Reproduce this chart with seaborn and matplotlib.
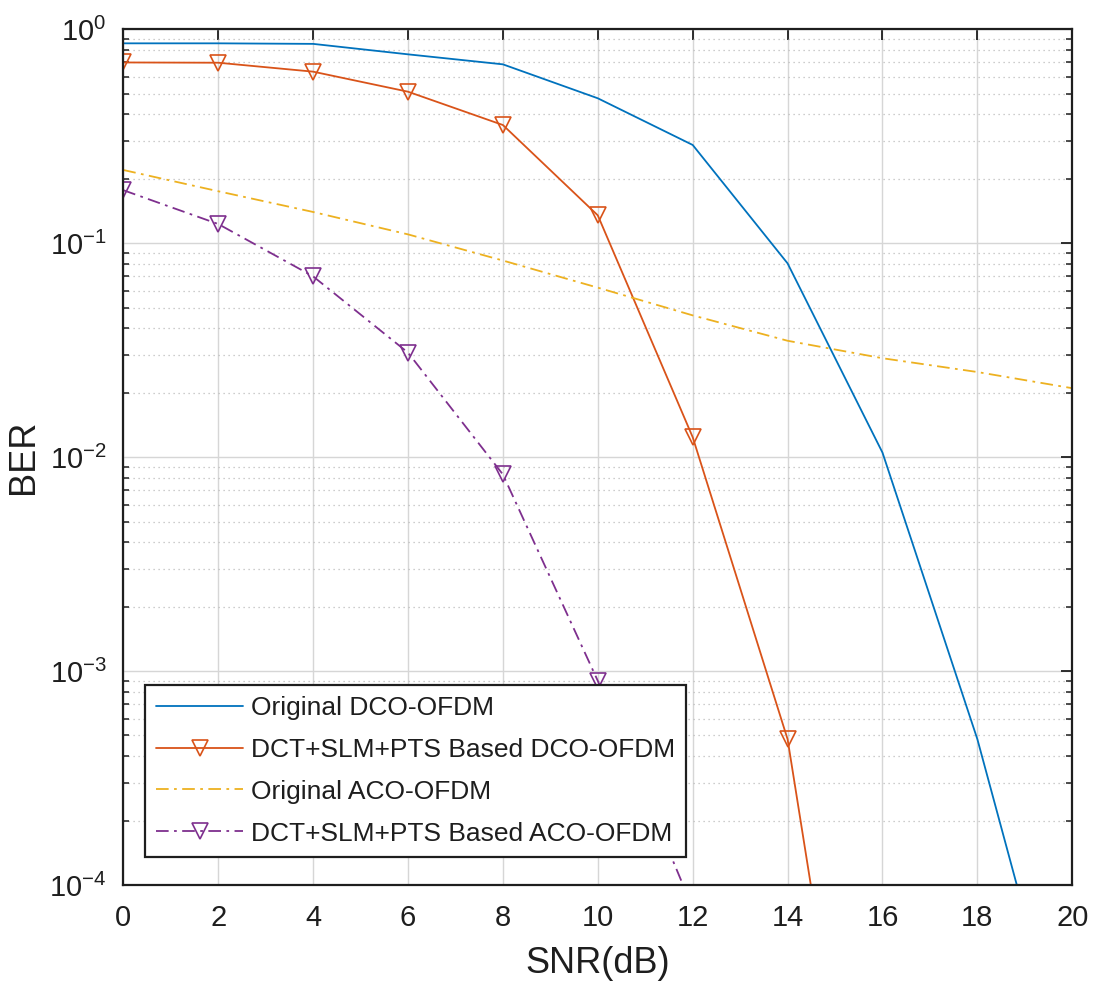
import numpy as np
import pandas as pd
import matplotlib
matplotlib.use("Agg")
import matplotlib.pyplot as plt
import seaborn as sns
from matplotlib.ticker import LogLocator, NullFormatter

# ---- data ----
snr = [0, 2, 4, 6, 8, 10, 12, 14, 16, 18, 20]
ber_dco = [0.86, 0.86, 0.855, 0.764, 0.686, 0.476, 0.288, 0.0805, 0.0105, 4.8e-4, 1.1e-5]
ber_dct_dco = [0.70, 0.698, 0.634, 0.511, 0.357, 0.135, 0.0124, 4.8e-4, 7.9e-7, np.nan, np.nan]
ber_aco = [0.22, 0.175, 0.140, 0.110, 0.083, 0.062, 0.046, 0.035, 0.029, 0.025, 0.021]
ber_dct_aco = [0.177, 0.123, 0.070, 0.0308, 0.0083, 9.0e-4, 7.8e-5, np.nan, np.nan, np.nan, np.nan]

labels = ["Original DCO-OFDM", "DCT+SLM+PTS Based DCO-OFDM",
          "Original ACO-OFDM", "DCT+SLM+PTS Based ACO-OFDM"]
x_ticks = [0, 2, 4, 6, 8, 10, 12, 14, 16, 18, 20]

sns.set_theme(style="white")
plt.rcParams["font.family"] = ["Liberation Sans", "DejaVu Sans"]
plt.rcParams["mathtext.fontset"] = "custom"
plt.rcParams["mathtext.rm"] = "Liberation Sans"
plt.rcParams["mathtext.it"] = "Liberation Sans"
plt.rcParams["mathtext.default"] = "regular"
plt.rcParams["axes.unicode_minus"] = False

fig = plt.figure(figsize=(11, 9.94), dpi=100)
ax = fig.add_axes([0.1121, 0.1097, 0.8627, 0.8608])

c_blue = "#0072BD"
c_orange = "#D95319"
c_yellow = "#EDB120"
c_purple = "#7E2F8E"
txt = "#1e1e1e"
lw = 1.3
dashdot = (0, (7, 3, 1.5, 3))

sns.lineplot(x=snr, y=ber_dco, ax=ax, color=c_blue, lw=lw, label=labels[0])
sns.lineplot(x=snr, y=ber_dct_dco, ax=ax, color=c_orange, lw=lw, marker="v",
             markersize=12, markerfacecolor="none", markeredgecolor=c_orange,
             markeredgewidth=1.2, label=labels[1])
sns.lineplot(x=snr, y=ber_aco, ax=ax, color=c_yellow, lw=lw, linestyle=dashdot,
             label=labels[2])
sns.lineplot(x=snr, y=ber_dct_aco, ax=ax, color=c_purple, lw=lw, linestyle=dashdot,
             marker="v", markersize=12, markerfacecolor="none",
             markeredgecolor=c_purple, markeredgewidth=1.2, label=labels[3])

ax.set_yscale("log")
ax.set_ylim(1e-4, 1)
ax.set_xlim(0, 20)
ax.set_xticks(x_ticks)
ax.set_xticklabels([str(t) for t in x_ticks])
ax.yaxis.set_major_locator(LogLocator(base=10, numticks=10))
ax.yaxis.set_minor_locator(LogLocator(base=10, subs=np.arange(2, 10), numticks=20))
ax.yaxis.set_minor_formatter(NullFormatter())

ax.grid(True, which="major", axis="both", color="#d6d6d6", lw=1.0, ls="-")
ax.grid(True, which="minor", axis="y", color="#bdbdbd", lw=0.9, ls=(0, (1, 3)))
ax.set_axisbelow(True)

for s in ax.spines.values():
    s.set_color(txt)
    s.set_linewidth(1.6)
    s.set_visible(True)

ax.tick_params(axis="both", which="major", direction="in", length=8, width=1.3,
               top=True, right=True, labelsize=21, colors=txt, pad=12)
ax.tick_params(axis="y", which="minor", direction="in", length=4, width=1.1,
               left=True, right=True, colors=txt)
ax.tick_params(axis="x", which="major", pad=14)

ax.set_xlabel("SNR(dB)", fontsize=26, color=txt, labelpad=10)
ax.set_ylabel("BER", fontsize=26, color=txt, labelpad=6)

leg = ax.legend(loc="lower left", bbox_to_anchor=(0.023, 0.033), fontsize=19,
                frameon=True, fancybox=False, edgecolor=txt,
                handlelength=3.3, handletextpad=0.3, labelspacing=0.68,
                borderpad=0.42, borderaxespad=0.0)
leg.get_frame().set_linewidth(1.6)
leg.get_frame().set_facecolor("white")
leg.get_frame().set_alpha(1.0)
for t in leg.get_texts():
    t.set_color(txt)

fig.savefig("out.png", dpi=100)
